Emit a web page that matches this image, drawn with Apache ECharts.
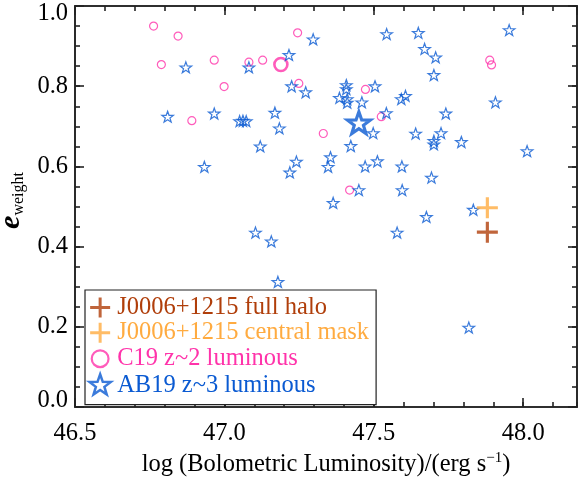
<!DOCTYPE html>
<html><head><meta charset="utf-8">
<script src="https://cdn.jsdelivr.net/npm/echarts@6/dist/echarts.min.js"></script>
<style>html,body{margin:0;padding:0;background:#fff}#c{width:580px;height:477px}</style>
</head><body><div id="c"></div>
<script>
// ---- data ----
const xTicks = [46.5, 47.0, 47.5, 48.0];
const yTicks = [0.0, 0.2, 0.4, 0.6, 0.8, 1.0];
const xMax = 48.18;

const haloX = [47.880];
const haloY = [0.436];
const maskX = [47.880];
const maskY = [0.497];

const c19X = [46.763, 46.845, 46.789, 46.966, 46.999, 47.082, 47.128, 47.245, 47.249, 46.891, 47.331, 47.472, 47.525, 47.888, 47.894, 47.419];
const c19Y = [0.950, 0.925, 0.854, 0.865, 0.799, 0.860, 0.865, 0.933, 0.807, 0.714, 0.682, 0.792, 0.724, 0.865, 0.853, 0.541];
const c19BigX = [47.189];
const c19BigY = [0.854];

const ab19X = [46.871, 47.082, 47.216, 47.297, 47.225, 47.272, 46.810, 46.966, 47.051, 47.062, 47.073, 47.169, 47.184, 47.120, 46.933, 47.241, 47.219, 47.355, 47.347,
  47.543, 47.649, 47.670, 47.707, 47.701, 47.953, 47.907, 47.504, 47.408, 47.408, 47.385, 47.411, 47.411, 47.460, 47.592, 47.606, 47.542, 47.741, 47.498, 47.423,
  47.640, 47.725, 47.701, 47.701, 47.793, 48.013, 47.471, 47.512, 47.594, 47.693, 47.450, 47.595, 47.364, 47.833, 47.104, 47.157, 47.179, 47.578, 47.676, 47.818];
const ab19Y = [0.847, 0.847, 0.878, 0.917, 0.800, 0.785, 0.724, 0.732, 0.713, 0.714, 0.713, 0.734, 0.695, 0.650, 0.599, 0.612, 0.585, 0.623, 0.599,
  0.930, 0.933, 0.893, 0.872, 0.828, 0.940, 0.760, 0.800, 0.803, 0.793, 0.771, 0.768, 0.759, 0.760, 0.768, 0.776, 0.733, 0.732, 0.683, 0.651,
  0.682, 0.683, 0.664, 0.655, 0.661, 0.638, 0.600, 0.613, 0.600, 0.572, 0.541, 0.541, 0.509, 0.492, 0.435, 0.413, 0.312, 0.435, 0.474, 0.198];
const ab19BigX = [47.450];
const ab19BigY = [0.709];

const names = ['J0006+1215 full halo', 'J0006+1215 central mask', 'C19 z~2 luminous', 'AB19 z~3 luminous'];

// ---- style ----
const FONT = 'Liberation Serif';
const BROWN = '#b03e0a', ORANGE = '#ffab40', PINK = '#ff33aa', BLUE = '#0a5ad2';
const AX = '#222';
const starShape = 'M50,0 L61.76,33.82 L97.55,34.55 L69.02,56.18 L79.39,90.45 L50,70 L20.61,90.45 L30.98,56.18 L2.45,34.55 L38.24,33.82 Z';
const plusShape = 'M42.5,0H57.5V42.5H100V57.5H57.5V100H42.5V57.5H0V42.5H42.5Z';
const starPath = 'path://' + starShape;
const plusPath = 'path://' + plusShape;
// legend icons: same shapes, with invisible move-to points that pad the icon box
const starIcon = 'path://M-3,-4 M103,103 ' + starShape;
const plusIcon = 'path://M-10,-10 M110,110 ' + plusShape;
const circleIcon = 'path://M0,0 M100,100 M15,50 A35,35 0 1,1 85,50 A35,35 0 1,1 15,50 Z';
const NONE = 'rgba(255,255,255,0)';

const pts = (xs, ys) => xs.map((x, i) => [x, ys[i]]);
const lineStyle = { color: AX, width: 1.6 };
const FS = 24.5;

function xAx(pos, interval, len, labels) {
  return {
    type: 'value', position: pos, min: xTicks[0], max: xMax, interval: interval,
    axisLine: { show: true, onZero: false, lineStyle: lineStyle },
    axisTick: { show: true, inside: true, length: len, lineStyle: lineStyle },
    axisLabel: labels ? { show: true, margin: 14, fontFamily: FONT, fontSize: FS, color: '#000', showMaxLabel: false,
      formatter: v => v.toFixed(1) } : { show: false },
    splitLine: { show: false }
  };
}
function yAx(pos, interval, len, labels) {
  return {
    type: 'value', position: pos, min: yTicks[0], max: yTicks[yTicks.length - 1], interval: interval,
    axisLine: { show: true, onZero: false, lineStyle: lineStyle },
    axisTick: { show: true, inside: true, length: len, lineStyle: lineStyle },
    axisLabel: labels ? { show: true, margin: 7, fontFamily: FONT, fontSize: FS, color: '#000',
      formatter: v => { const s = v.toFixed(1); if (v >= 0.999) return '{t|' + s + '}'; if (v <= 0.001) return '{b|' + s + '}'; return s; },
      rich: { t: { fontFamily: FONT, fontSize: FS, color: '#000', padding: [16, 0, 0, 0] },
              b: { fontFamily: FONT, fontSize: FS, color: '#000', padding: [0, 0, 12, 0] } } } : { show: false },
    splitLine: { show: false }
  };
}

const xMain = xAx('bottom', xTicks[1] - xTicks[0], 9, true);
xMain.name = '{a|log (Bolometric Luminosity)/(erg s}{s|\u22121}{a|)}';
xMain.nameLocation = 'middle';
xMain.nameGap = 37;
xMain.nameTextStyle = { rich: {
  a: { fontFamily: FONT, fontSize: FS, color: '#000', lineHeight: 26, verticalAlign: 'bottom' },
  s: { fontFamily: FONT, fontSize: 15, color: '#000', lineHeight: 15, verticalAlign: 'top' } } };

const yMain = yAx('left', yTicks[1] - yTicks[0], 9, true);
yMain.name = '{e|e}{w|weight}';
yMain.nameLocation = 'middle';
yMain.nameRotate = 90;
yMain.nameGap = 33;
yMain.nameTextStyle = { padding: [0, 0, 0, 12], rich: {
  e: { fontFamily: FONT, fontSize: 30, fontWeight: 'bold', fontStyle: 'italic', color: '#000', lineHeight: 30, verticalAlign: 'bottom' },
  w: { fontFamily: FONT, fontSize: 16, color: '#000', lineHeight: 14, verticalAlign: 'bottom' } } };

const option = {
  animation: false,
  backgroundColor: '#fff',
  grid: { left: 75, right: 3, top: 6, bottom: 70, containLabel: false, outerBoundsMode: 'none' },
  xAxis: [xMain, xAx('bottom', 0.1, 5, false), xAx('top', 0.5, 9, false), xAx('top', 0.1, 5, false)],
  yAxis: [yMain, yAx('left', 0.05, 5, false), yAx('right', 0.2, 9, false), yAx('right', 0.05, 5, false)],
  legend: {
    orient: 'vertical', left: 85, top: 290, padding: [5, 7, 6, 2],
    itemWidth: 24, itemHeight: 24, itemGap: 0.3,
    backgroundColor: '#fff', borderColor: AX, borderWidth: 1.2, borderRadius: 0,
    selectedMode: false,
    textStyle: { fontFamily: FONT, fontSize: 24.5, lineHeight: 24 },
    data: [
      { name: names[0], icon: plusIcon, textStyle: { color: BROWN }, itemStyle: { color: BROWN, borderWidth: 0 } },
      { name: names[1], icon: plusIcon, textStyle: { color: ORANGE }, itemStyle: { color: ORANGE, borderWidth: 0 } },
      { name: names[2], icon: circleIcon, textStyle: { color: PINK }, itemStyle: { color: NONE, borderColor: PINK, borderWidth: 2.2 } },
      { name: names[3], icon: starIcon, textStyle: { color: BLUE }, itemStyle: { color: NONE, borderColor: BLUE, borderWidth: 2.5 } }
    ]
  },
  series: [
    { name: names[2], type: 'scatter', symbol: 'circle', symbolSize: 8, silent: true, z: 2,
      itemStyle: { color: NONE, borderColor: PINK, borderWidth: 1.2 },
      data: pts(c19X, c19Y).concat(pts(c19BigX, c19BigY).map(p => ({ value: p, symbolSize: 13, itemStyle: { borderWidth: 2.6 } }))) },
    { name: names[3], type: 'scatter', symbol: starPath, symbolSize: 11.5, symbolKeepAspect: true, silent: true, z: 3,
      itemStyle: { color: NONE, borderColor: BLUE, borderWidth: 1.2 },
      data: pts(ab19X, ab19Y).concat(pts(ab19BigX, ab19BigY).map(p => ({ value: p, symbolSize: 23, itemStyle: { borderWidth: 3.2 } }))) },
    { name: names[1], type: 'scatter', symbol: plusPath, symbolSize: 21, silent: true, z: 4,
      itemStyle: { color: ORANGE, borderWidth: 0 }, data: pts(maskX, maskY) },
    { name: names[0], type: 'scatter', symbol: plusPath, symbolSize: 21, silent: true, z: 4,
      itemStyle: { color: BROWN, borderWidth: 0 }, data: pts(haloX, haloY) }
  ]
};
const chart = echarts.init(document.getElementById('c'), null, { renderer: 'canvas' });
chart.setOption(option);
</script></body></html>
